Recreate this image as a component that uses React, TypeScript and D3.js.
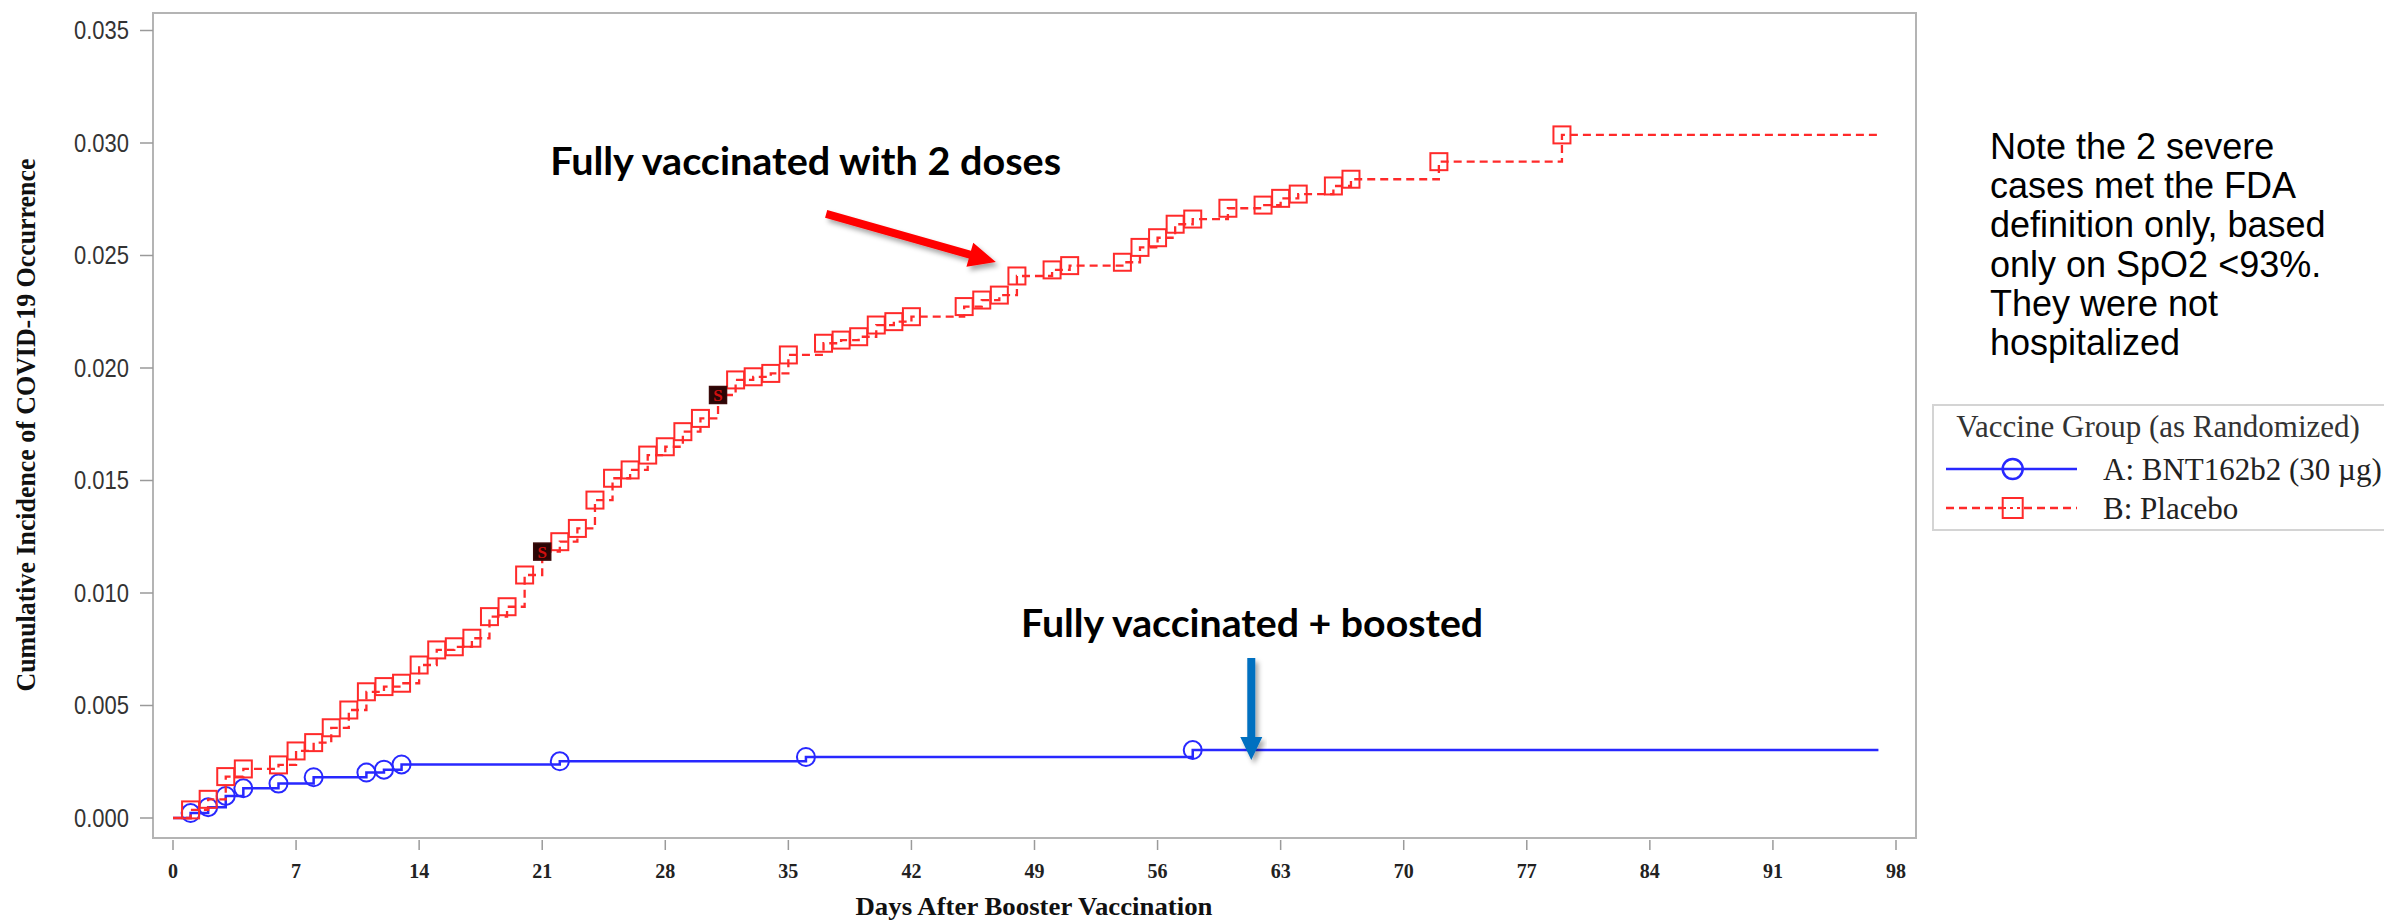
import React from 'react';
import * as d3 from 'd3';

// ---------- data ----------
const placeboDays = [1, 2, 3, 4, 6, 7, 8, 9, 10, 11, 12, 13, 14, 15, 16, 17, 18, 19, 20, 21, 22, 23, 24, 25, 26, 27, 28, 29, 30, 31, 32, 33, 34, 35, 37, 38, 39, 40, 41, 42, 45, 46, 47, 48, 50, 51, 54, 55, 56, 57, 58, 60, 62, 63, 64, 66, 67, 72, 79];
const placeboValues = [0.00036, 0.00083, 0.00184, 0.00218, 0.00236, 0.00298, 0.00335, 0.00401, 0.0048, 0.00561, 0.00584, 0.00599, 0.0068, 0.00747, 0.00761, 0.00799, 0.00895, 0.00939, 0.0108, 0.01184, 0.01228, 0.01287, 0.01413, 0.0151, 0.01547, 0.01613, 0.0165, 0.01717, 0.01776, 0.0188, 0.01947, 0.01961, 0.01976, 0.02058, 0.0211, 0.02124, 0.02139, 0.02191, 0.02206, 0.02228, 0.02273, 0.02302, 0.02324, 0.02409, 0.02436, 0.02455, 0.0247, 0.02536, 0.02579, 0.02639, 0.02662, 0.0271, 0.02724, 0.02754, 0.02773, 0.02809, 0.02839, 0.02917, 0.03036];
const vaccineDays = [1, 2, 3, 4, 6, 8, 11, 12, 13, 22, 36, 58];
const vaccineValues = [0.00022, 0.00048, 0.00098, 0.00132, 0.00153, 0.00181, 0.00202, 0.00215, 0.00238, 0.00252, 0.00271, 0.00302];
const severeDays = [21, 31];
const lastDay = 97;

const xTicks = [0, 7, 14, 21, 28, 35, 42, 49, 56, 63, 70, 77, 84, 91, 98];
const yTicks = [0, 0.005, 0.01, 0.015, 0.02, 0.025, 0.03, 0.035];

const xTitle = 'Days After Booster Vaccination';
const yTitle = 'Cumulative Incidence of COVID-19 Occurrence';
const legendTitle = 'Vaccine Group (as Randomized)';
const seriesLabels = ['A: BNT162b2 (30 \u00b5g)', 'B: Placebo'];
const noteLines = ['Note the 2 severe', 'cases met the FDA', 'definition only, based', 'only on SpO2 <93%.', 'They were not', 'hospitalized'];
const annotation1 = 'Fully vaccinated with 2 doses';
const annotation2 = 'Fully vaccinated + boosted';

// ---------- layout ----------
const W = 2384;
const H = 924;
const frame = { left: 153, top: 13, right: 1916, bottom: 838 };
const BLUE = '#2828ff';
const RED = '#ff2a2a';

type Pt = { day: number; value: number };

function arrowPoints(x1: number, y1: number, x2: number, y2: number, shaft: number, headW: number, headL: number) {
  const dx = x2 - x1;
  const dy = y2 - y1;
  const len = Math.sqrt(dx * dx + dy * dy);
  const ux = dx / len;
  const uy = dy / len;
  const px = -uy;
  const py = ux;
  const bx = x2 - ux * headL;
  const by = y2 - uy * headL;
  const pts = [
    [x1 + px * shaft / 2, y1 + py * shaft / 2],
    [bx + px * shaft / 2, by + py * shaft / 2],
    [bx + px * headW / 2, by + py * headW / 2],
    [x2, y2],
    [bx - px * headW / 2, by - py * headW / 2],
    [bx - px * shaft / 2, by - py * shaft / 2],
    [x1 - px * shaft / 2, y1 - py * shaft / 2],
  ];
  return pts.map((p) => p.join(',')).join(' ');
}

export default function App() {
  const x = d3.scaleLinear().domain([0, 98]).range([173, 1896]);
  const y = d3.scaleLinear().domain([0, 0.035]).range([818, 30.5]);

  const placebo: Pt[] = placeboDays.map((d, i) => ({ day: d, value: placeboValues[i] }));
  const vaccine: Pt[] = vaccineDays.map((d, i) => ({ day: d, value: vaccineValues[i] }));
  const stepPl: Pt[] = [{ day: 0, value: 0 }, ...placebo, { day: lastDay, value: placeboValues[placeboValues.length - 1] }];
  const stepVa: Pt[] = [{ day: 0, value: 0 }, ...vaccine, { day: lastDay, value: vaccineValues[vaccineValues.length - 1] }];

  const line = d3
    .line<Pt>()
    .x((d) => x(d.day))
    .y((d) => y(d.value))
    .curve(d3.curveStepAfter);

  const fmt = d3.format('.3f');
  const sq = 17;

  // annotation anchors in data space
  const redArrow = { from: [37.15, 0.02685], to: [46.8, 0.02471] };
  const blueArrow = { from: [61.33, 0.00711], to: [61.33, 0.00258] };

  return (
    <svg width={W} height={H} style={{ position: 'absolute', left: 0, top: 0, background: '#fff' }}>
      <defs>
        <filter id="shadow" x="-20%" y="-20%" width="140%" height="160%">
          <feDropShadow dx="3" dy="4" stdDeviation="2.5" floodColor="#000" floodOpacity="0.35" />
        </filter>
      </defs>
      <rect x={0} y={0} width={W} height={H} fill="#fff" />

      {/* frame */}
      <rect x={frame.left} y={frame.top} width={frame.right - frame.left} height={frame.bottom - frame.top} fill="none" stroke="#b4b4b4" strokeWidth={2} />

      {/* y axis */}
      {yTicks.map((t) => (
        <g key={'y' + t}>
          <line x1={140} x2={frame.left} y1={y(t)} y2={y(t)} stroke="#9a9a9a" strokeWidth={1.5} />
          <text x={129} y={y(t) + 8.5} textAnchor="end" fontFamily="Liberation Sans, Arial, sans-serif" fontSize={25} fill="#333" textLength={55} lengthAdjust="spacingAndGlyphs">
            {fmt(t)}
          </text>
        </g>
      ))}
      <text transform={`translate(35,425) rotate(-90)`} textAnchor="middle" fontFamily="Liberation Serif, Times New Roman, serif" fontWeight="bold" fontSize={27} fill="#111" textLength={533} lengthAdjust="spacingAndGlyphs">
        {yTitle}
      </text>

      {/* x axis */}
      {xTicks.map((t) => (
        <g key={'x' + t}>
          <line x1={x(t)} x2={x(t)} y1={frame.bottom + 2} y2={850} stroke="#9a9a9a" strokeWidth={1.5} />
          <text x={x(t)} y={878} textAnchor="middle" fontFamily="Liberation Serif, Times New Roman, serif" fontWeight="bold" fontSize={20} fill="#222">
            {t}
          </text>
        </g>
      ))}
      <text x={1034} y={915} textAnchor="middle" fontFamily="Liberation Serif, Times New Roman, serif" fontWeight="bold" fontSize={26} fill="#111" textLength={357} lengthAdjust="spacingAndGlyphs">
        {xTitle}
      </text>

      {/* vaccine series */}
      {vaccine.map((p, i) => (
        <circle key={'c' + i} cx={x(p.day)} cy={y(p.value)} r={9} fill="none" stroke={BLUE} strokeWidth={2} />
      ))}
      <path d={line(stepVa) || ''} fill="none" stroke={BLUE} strokeWidth={2.5} />

      {/* placebo series */}
      {placebo.map((p, i) =>
        severeDays.includes(p.day) ? null : (
          <rect key={'s' + i} x={x(p.day) - sq / 2} y={y(p.value) - sq / 2} width={sq} height={sq} fill="none" stroke={RED} strokeWidth={2} />
        )
      )}
      <path d={line(stepPl) || ''} fill="none" stroke={RED} strokeWidth={2.3} strokeDasharray="8 5" />
      {placebo
        .filter((p) => severeDays.includes(p.day))
        .map((p, i) => (
          <g key={'sev' + i}>
            <rect x={x(p.day) - sq / 2} y={y(p.value) - sq / 2} width={sq} height={sq} fill="#2a0606" stroke="#3a0a0a" strokeWidth={1.5} />
            <text x={x(p.day)} y={y(p.value) + 6} textAnchor="middle" fontFamily="Liberation Serif, serif" fontWeight="bold" fontSize={17} fill="#d01010">
              S
            </text>
          </g>
        ))}

      {/* annotations */}
      <text x={x(21.45)} y={y(0.02858)} fontFamily="Lato, Open Sans, sans-serif" fontWeight="bold" fontSize={39} fill="#000" textLength={511} lengthAdjust="spacingAndGlyphs">
        {annotation1}
      </text>
      <polygon
        points={arrowPoints(x(redArrow.from[0]), y(redArrow.from[1]), x(redArrow.to[0]), y(redArrow.to[1]), 8, 25, 27)}
        fill="#ff0000"
        filter="url(#shadow)"
      />
      <text x={x(48.24)} y={y(0.00804)} fontFamily="Lato, Open Sans, sans-serif" fontWeight="bold" fontSize={39} fill="#000" textLength={462} lengthAdjust="spacingAndGlyphs">
        {annotation2}
      </text>
      <polygon
        points={arrowPoints(x(blueArrow.from[0]), y(blueArrow.from[1]), x(blueArrow.to[0]), y(blueArrow.to[1]), 8, 22, 23)}
        fill="#0070c0"
        filter="url(#shadow)"
      />

      {/* note */}
      {noteLines.map((l, i) => (
        <text key={'n' + i} x={1990} y={159 + i * 39.2} fontFamily="Liberation Sans, Arial, sans-serif" fontSize={36} fill="#000">
          {l}
        </text>
      ))}

      {/* legend */}
      <rect x={1933} y={405} width={470} height={125} fill="#fff" stroke="#d4d4d4" strokeWidth={2} />
      <text x={2158} y={437} textAnchor="middle" fontFamily="Liberation Serif, Times New Roman, serif" fontSize={31} fill="#333">
        {legendTitle}
      </text>
      <line x1={1946} x2={2077} y1={469} y2={469} stroke={BLUE} strokeWidth={2.5} />
      <circle cx={2012.7} cy={469} r={10} fill="none" stroke={BLUE} strokeWidth={2.5} />
      <text x={2103} y={480} fontFamily="Liberation Serif, Times New Roman, serif" fontSize={31} fill="#222">
        {seriesLabels[0]}
      </text>
      <line x1={1946} x2={2077} y1={508} y2={508} stroke={RED} strokeWidth={2.3} strokeDasharray="8 5" />
      <rect x={2012.7 - 10} y={498} width={20} height={20} fill="#fff" stroke={RED} strokeWidth={2} />
      <line x1={2003} x2={2023} y1={508} y2={508} stroke={RED} strokeWidth={2} strokeDasharray="3 4" />
      <text x={2103} y={519} fontFamily="Liberation Serif, Times New Roman, serif" fontSize={31} fill="#222">
        {seriesLabels[1]}
      </text>
    </svg>
  );
}
